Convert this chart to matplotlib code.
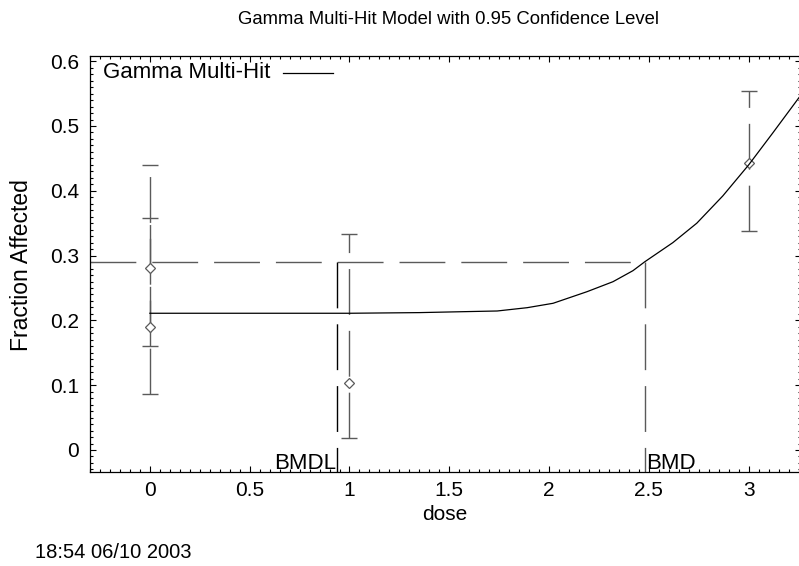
import numpy as np
import matplotlib
matplotlib.use("Agg")
import matplotlib.pyplot as plt
from matplotlib.ticker import MultipleLocator, FormatStrFormatter

# observed groups: dose, fraction affected, 95% CI
dose_obs = [0, 0, 1, 3]
frac_obs = [0.281, 0.190, 0.103, 0.443]
ci_low = [0.160, 0.086, 0.0185, 0.338]
ci_high = [0.440, 0.358, 0.333, 0.554]

# fitted gamma multi-hit curve
curve_dose = [0, 0.5, 1.0, 1.35, 1.58, 1.74, 1.89, 2.02, 2.19, 2.32, 2.42,
              2.48, 2.62, 2.74, 2.87, 3.0, 3.12, 3.25, 3.27]
curve_frac = [0.211, 0.211, 0.211, 0.212, 0.2135, 0.2145, 0.2196, 0.2264,
              0.2443, 0.2597, 0.2767, 0.2906, 0.320, 0.350, 0.392, 0.440,
              0.489, 0.543, 0.551]

bmr_level = 0.290
bmd = 2.48
bmdl = 0.935

plt.rcParams['font.family'] = ['Liberation Sans', 'DejaVu Sans']
plt.rcParams['lines.scale_dashes'] = False

W, H = 799, 566
fig = plt.figure(figsize=(W / 100, H / 100), dpi=100)
ax = fig.add_axes([90 / W, (H - 471.7) / H, (801 - 90) / W, (471.7 - 56) / H])

xmin, xmax = -0.3, 3.262
ymin, ymax = -0.0335, 0.608
ax.set_xlim(xmin, xmax)
ax.set_ylim(ymin, ymax)

grey = '#5a5a5a'
dash_px = (33, 11.5)  # ~46px on, 16px off

# error bars (dashed, starting at the low end)
for d, lo, hi in zip(dose_obs, ci_low, ci_high):
    ax.plot([d, d], [lo, hi], color=grey, lw=1.0, dashes=dash_px)
ax.plot(dose_obs, ci_low, ls='none', marker='_', ms=11.5, mew=1.0, color=grey)
ax.plot(dose_obs, ci_high, ls='none', marker='_', ms=11.5, mew=1.0, color=grey)
ax.plot(dose_obs, frac_obs, ls='none', marker='D', ms=5.5, mfc='white',
        mec=grey, mew=0.9)

# model curve
ax.plot(curve_dose, curve_frac, color='black', lw=0.9)

# BMD / BMDL guide lines
ax.plot([xmin, bmd], [bmr_level, bmr_level], color=grey, lw=1.0, dashes=dash_px)
ax.plot([bmd, bmd], [bmr_level, ymin], color=grey, lw=1.0, dashes=dash_px)
ax.plot([bmdl, bmdl], [bmr_level, ymin], color='black', lw=1.0, dashes=dash_px)
ax.text(bmdl, -0.0293, 'BMDL', ha='right', va='baseline', fontsize=16)
ax.text(bmd + 0.005, -0.0293, 'BMD', ha='left', va='baseline', fontsize=16)

# legend drawn by hand
fig.text(103 / W, 1 - 73 / H, 'Gamma Multi-Hit', ha='left', va='center', fontsize=16)
fig.add_artist(plt.Line2D([283 / W, 333 / W], [1 - 72.7 / H, 1 - 72.7 / H],
                          color='black', lw=0.9))

# ticks
ax.xaxis.set_major_locator(MultipleLocator(0.5))
ax.xaxis.set_minor_locator(MultipleLocator(0.05))
ax.yaxis.set_major_locator(MultipleLocator(0.1))
ax.yaxis.set_minor_locator(MultipleLocator(0.01))
ax.xaxis.set_major_formatter(FormatStrFormatter('%g'))
ax.yaxis.set_major_formatter(FormatStrFormatter('%g'))
ax.tick_params(which='both', direction='in', top=True, right=True, width=0.8)
ax.tick_params(which='major', length=4.3, labelsize=15)
ax.tick_params(axis='x', which='major', pad=7)
ax.tick_params(axis='y', which='major', pad=8)
ax.tick_params(which='minor', length=2.2)
for s in ax.spines.values():
    s.set_linewidth(0.9)

fig.text(449 / W, 1 - 20 / H, 'Gamma Multi-Hit Model with 0.95 Confidence Level',
         ha='center', va='center', fontsize=13.3)
fig.text(445 / W, 1 - 514 / H, 'dose', ha='center', va='center', fontsize=15)
fig.text(22 / W, 1 - 265 / H, 'Fraction Affected', ha='center', va='center',
         rotation=90, fontsize=16.5)
fig.text(35 / W, 1 - 553 / H, '18:54 06/10 2003', ha='left', va='center',
         fontsize=14.5)

fig.savefig('out.png', dpi=100)
